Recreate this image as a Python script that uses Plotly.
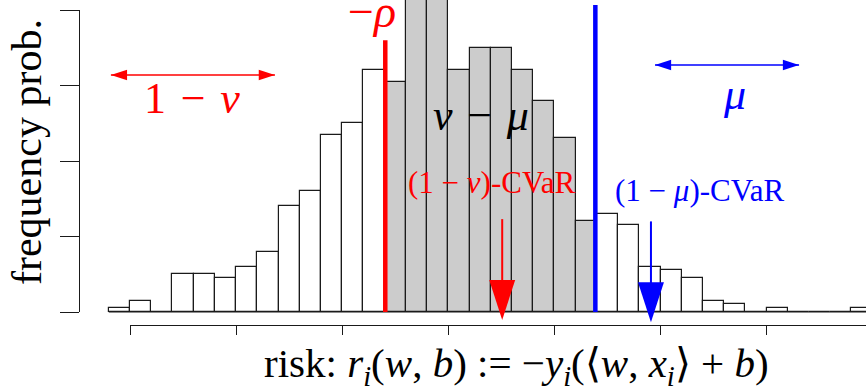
import plotly.graph_objects as go

# ---- data (bin index units; each axis tick = 5 bins) ----
bin_left = [-1, 0, 1, 2, 3, 4, 5, 6, 7, 8, 9, 10, 11, 12, 13, 14, 15, 16,
            17, 18, 19, 20, 21, 22, 23, 24, 25, 26, 27, 28, 29, 30, 31, 32, 33, 34]
counts = [1, 3, 0, 10, 10, 9, 12, 16, 28, 32, 47, 50, 64, 61, 92, 95, 64, 70,
          70, 64, 56, 46, 24, 26, 23, 12, 11, 9, 3, 2, 0, 1, 0, 0, 0, 1]
x_ticks = [0, 5, 10, 15, 20, 25, 30]
y_ticks = [0, 20, 40, 60, 80]

neg_rho = 12.03          # -rho threshold (red line)
mu_thresh = 21.93        # mu quantile (blue line)
cvar_nu = 17.54          # (1-nu)-CVaR
cvar_mu = 24.55          # (1-mu)-CVaR
nu_span = [-0.9, 6.83]   # extent of the "1 - nu" arrow
mu_span = [24.74, 31.53] # extent of the "mu" arrow

# ---- pixel mapping helpers (axis ranges) ----
W, H = 866, 390
bin_px = 21.22
x0_px = 130.0
base_px = 312.0
unit_px = 3.775
x_range = [-x0_px / bin_px, (W - x0_px) / bin_px]
y_range = [-(H - base_px) / unit_px, base_px / unit_px]

centers = [b + 0.5 for b in bin_left]
fills = ["#cccccc" if neg_rho <= c <= mu_thresh else "white" for c in centers]

FONT = "Liberation Serif"
RED = "#ff0000"
BLUE = "#0000ff"
EDGE = "#1a1a1a"

fig = go.Figure()

fig.add_trace(go.Bar(
    x=centers, y=counts, width=[1.0] * len(centers),
    marker=dict(color=fills, line=dict(color=EDGE, width=1.2)),
    hoverinfo="skip", showlegend=False,
))
fig.add_trace(go.Scatter(
    x=[bin_left[0], bin_left[-1] + 1], y=[0, 0], mode="lines",
    line=dict(color=EDGE, width=1.2), hoverinfo="skip", showlegend=False))

# threshold lines
fig.add_trace(go.Scatter(x=[neg_rho, neg_rho], y=[0, 72], mode="lines",
                         line=dict(color=RED, width=4.5), hoverinfo="skip", showlegend=False))
fig.add_trace(go.Scatter(x=[mu_thresh, mu_thresh], y=[0, 81.3], mode="lines",
                         line=dict(color=BLUE, width=4.5), hoverinfo="skip", showlegend=False))

# CVaR down arrows: shaft + arrowhead marker at the tip
for xv, col, top, tip in [(cvar_nu, RED, 24.6, -2.1), (cvar_mu, BLUE, 24.0, -2.7)]:
    fig.add_trace(go.Scatter(x=[xv, xv], y=[top, tip + 5], mode="lines",
                             line=dict(color=col, width=2), hoverinfo="skip", showlegend=False))
    fig.add_trace(go.Scatter(x=[xv], y=[tip], mode="markers",
                             marker=dict(symbol="arrow", angle=180, size=42, color=col,
                                         line=dict(width=0)),
                             hoverinfo="skip", showlegend=False))

# double-headed horizontal arrows
for span, yv, col in [(nu_span, 62.8, RED), (mu_span, 65.4, BLUE)]:
    fig.add_trace(go.Scatter(x=span, y=[yv, yv], mode="lines",
                             line=dict(color=col, width=1.5), hoverinfo="skip", showlegend=False))
    fig.add_trace(go.Scatter(x=span, y=[yv, yv], mode="markers",
                             marker=dict(symbol="arrow", angle=[270, 90], size=17, color=col,
                                         line=dict(width=0)),
                             hoverinfo="skip", showlegend=False))

# invisible traces to draw the detached axes
fig.add_trace(go.Scatter(x=[x_ticks[0]], y=[0], xaxis="x2", yaxis="y", mode="markers",
                         marker=dict(opacity=0), hoverinfo="skip", showlegend=False))
fig.add_trace(go.Scatter(x=[0], y=[y_ticks[0]], xaxis="x", yaxis="y2", mode="markers",
                         marker=dict(opacity=0), hoverinfo="skip", showlegend=False))

ann = []

def label(x, y, text, color, size):
    return dict(x=x, y=y, xref="x", yref="y", text=text, showarrow=False,
                font=dict(family=FONT, size=size, color=color), xanchor="center", yanchor="middle")

SP = "\u2004"
ann.append(label(11.40, 79.6, "−<i>ρ</i>", RED, 46))
ann.append(label(2.92, 56.6, "1" + SP + "−" + SP + "<i>ν</i>", RED, 44))
ann.append(label(28.51, 57.6, "<i>μ</i>", BLUE, 44))
ann.append(label(16.54, 52.0, "<i>ν</i>" + SP + "−" + SP + "<i>μ</i>", "black", 44))
ann.append(label(17.06, 34.4, "(1 − <i>ν</i>)-CVaR", RED, 31))
ann.append(label(26.86, 32.3, "(1 − <i>μ</i>)-CVaR", BLUE, 31))

# axis titles
ann.append(dict(x=27 / W, y=(H - 152) / H, xref="paper", yref="paper", textangle=-90,
                text="frequency prob.", showarrow=False,
                font=dict(family=FONT, size=42, color="black"), xanchor="center", yanchor="middle"))
ann.append(dict(x=516 / W, y=(H - 366) / H, xref="paper", yref="paper",
                text="risk: <i>r<sub>i</sub></i>(<i>w</i>, <i>b</i>) := −<i>y<sub>i</sub></i>(⟨<i>w</i>, <i>x<sub>i</sub></i>⟩ + <i>b</i>)",
                showarrow=False, font=dict(family=FONT, size=41, color="black"),
                xanchor="center", yanchor="middle"))

fig.update_layout(
    width=W, height=H, margin=dict(l=0, r=0, t=0, b=0, pad=0),
    paper_bgcolor="white", plot_bgcolor="rgba(0,0,0,0)",
    bargap=0, showlegend=False, annotations=ann,
    xaxis=dict(range=x_range, domain=[0, 1], visible=False, fixedrange=True),
    yaxis=dict(range=y_range, domain=[0, 1], visible=False, fixedrange=True),
    xaxis2=dict(range=[0, (W - x0_px) / bin_px], domain=[x0_px / W, 1], anchor="free",
                position=(H - 325) / H, tickvals=x_ticks, ticks="outside", ticklen=9,
                tickwidth=1.2, tickcolor=EDGE, showline=True, linecolor=EDGE,
                linewidth=1.2, showticklabels=False, showgrid=False, zeroline=False,
                fixedrange=True),
    yaxis2=dict(range=[y_ticks[0], y_ticks[-1]], domain=[(H - base_px) / H, (H - 10) / H],
                anchor="free", position=79 / W, tickvals=y_ticks, ticks="outside", ticklen=19,
                tickwidth=1.2, tickcolor=EDGE, showline=True, linecolor=EDGE,
                linewidth=1.2, showticklabels=False, showgrid=False, zeroline=False,
                fixedrange=True),
)

fig.write_html("out.html", config={"displayModeBar": False},
               post_script="document.body.style.margin='0';document.body.style.overflow='hidden';")
